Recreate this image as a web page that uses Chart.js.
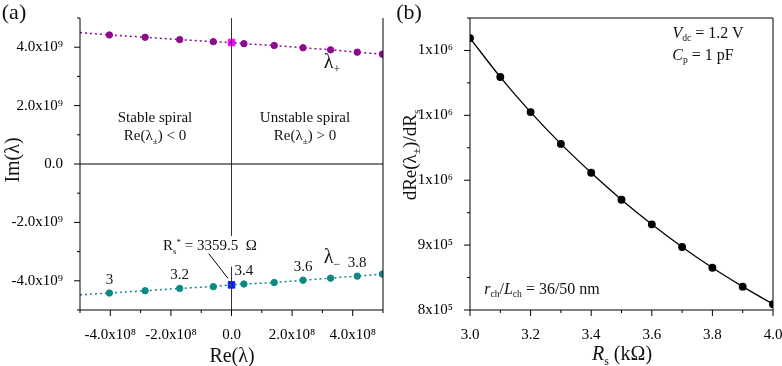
<!DOCTYPE html>
<html>
<head>
<meta charset="utf-8">
<script src="https://cdn.jsdelivr.net/npm/chart.js@4.4.0/dist/chart.umd.min.js"></script>
<style>
  html, body { margin: 0; padding: 0; background: #fff; }
  #wrap { position: relative; width: 782px; height: 366px; overflow: hidden; background: #fff; }
  #chartA { position: absolute; left: 0; top: 0; }
  #chartB { position: absolute; left: 391px; top: 0; }
  .t { position: absolute; font-family: 'Liberation Serif', 'Times New Roman', serif; color: #111;
       white-space: nowrap; transform: translate(-50%, -50%); line-height: 1; }
  .t sub { font-size: 0.6em; vertical-align: -0.35em; }
  .t sup { font-size: 0.6em; vertical-align: 0.55em; }
  .rot { transform: translate(-50%, -50%) rotate(-90deg); }
  i { font-style: italic; }
</style>
</head>
<body>
<div id="wrap">
  <canvas id="chartA" width="391" height="366"></canvas>
  <canvas id="chartB" width="400" height="366"></canvas>

  <!-- panel (a) text -->
  <div class="t" style="left:14px; top:12px; font-size:22px;">(a)</div>
  <div class="t rot" style="left:12px; top:160px; font-size:20px;">Im(λ)</div>
  <div class="t" style="left:232px; top:355px; font-size:20px;">Re(λ)</div>
  <div class="t" style="left:155px; top:117px; font-size:15px;">Stable spiral</div>
  <div class="t" style="left:155px; top:137px; font-size:15px;">Re(λ<sub>±</sub>) &lt; 0</div>
  <div class="t" style="left:305px; top:117px; font-size:15px;">Unstable spiral</div>
  <div class="t" style="left:305px; top:137px; font-size:15px;">Re(λ<sub>±</sub>) &gt; 0</div>
  <div class="t" style="left:332px; top:63px; font-size:20px;">λ<sub>+</sub></div>
  <div class="t" style="left:332px; top:258px; font-size:20px;">λ<sub>−</sub></div>
  <div class="t" style="left:210px; top:247px; font-size:15px;">R<sub>s</sub><sup>*</sup> = 3359.5 &nbsp;Ω</div>

  <!-- panel (b) text -->
  <div class="t" style="left:409px; top:12px; font-size:22px;">(b)</div>
  <div class="t rot" style="left:411px; top:155px; font-size:19px;">dRe(λ<sub>±</sub>)/dR<sub>s</sub></div>
  <div class="t" style="left:622px; top:355px; font-size:20px;"><i>R</i><sub>s</sub> (kΩ)</div>
  <div class="t" style="left:708px; top:34px; font-size:16px;"><i>V</i><sub>dc</sub> = 1.2 V</div>
  <div class="t" style="left:703px; top:56px; font-size:16px;"><i>C</i><sub>p</sub> = 1 pF</div>
  <div class="t" style="left:542px; top:290px; font-size:16px;"><i>r</i><sub>ch</sub>/<i>L</i><sub>ch</sub> = 36/50 nm</div>
</div>

<script>
// ---- panel (a): eigenvalues in the complex plane ----
const reLam = [-4.03e8, -2.85e8, -1.71e8, -0.60e8, 0.41e8, 1.41e8, 2.36e8, 3.27e8, 4.15e8, 4.98e8];
const imLamPlus = [4.42e9, 4.34e9, 4.26e9, 4.19e9, 4.12e9, 4.06e9, 3.98e9, 3.91e9, 3.83e9, 3.76e9];
const imLamMinus = [-4.42e9, -4.34e9, -4.26e9, -4.20e9, -4.11e9, -4.06e9, -3.98e9, -3.91e9, -3.84e9, -3.77e9];
const rsLabels = ['3', '', '3.2', '', '3.4', '', '3.6', '', '3.8', ''];
// critical point Rs* (Hopf)
const critRe = 0;
const critImPlus = 4.16e9;
const critImMinus = -4.14e9;
// where the dotted guide lines leave the left edge
const edgeRe = -5e8;
const edgeImPlus = 4.5e9;
const edgeImMinus = -4.48e9;
// reference lines and leader line
const zeroVUpper = [5e9, -2.45e9];
const zeroVLower = [-3.52e9, -5e9];
const leaderRe = [-7.5e7, -1.2e7];
const leaderIm = [-3.07e9, -3.91e9];

const xTicksA = [-4e8, -2e8, 0, 2e8, 4e8];
const xMinorA = [-5e8, -3e8, -1e8, 1e8, 3e8, 5e8];
const yTicksA = [-4e9, -2e9, 0, 2e9, 4e9];
const yMinorA = [-5e9, -3e9, -1e9, 1e9, 3e9, 5e9];

// ---- panel (b): derivative vs Rs ----
const rsK = [3.0, 3.1, 3.2, 3.3, 3.4, 3.5, 3.6, 3.7, 3.8, 3.9, 4.0];
const dReDRs = [1.219e6, 1.159e6, 1.105e6, 1.056e6, 1.0115e6, 9.70e5, 9.32e5, 8.97e5, 8.65e5, 8.36e5, 8.09e5];
const xTicksB = [3.0, 3.2, 3.4, 3.6, 3.8, 4.0];
const xMinorB = [3.1, 3.3, 3.5, 3.7, 3.9];
const yTicksB = [8e5, 9e5, 1e6, 1.1e6, 1.2e6];
const yMinorB = [8.5e5, 9.5e5, 1.05e6, 1.15e6, 1.25e6];

const SERIF = "'Liberation Serif', 'Times New Roman', serif";
Chart.defaults.font.family = SERIF;
Chart.defaults.color = '#000';

const sup = { '0': '⁰', '1': '¹', '2': '²', '3': '³', '4': '⁴', '5': '⁵', '6': '⁶', '7': '⁷', '8': '⁸', '9': '⁹' };
function sci(mant, exp) {
  return mant + 'x10' + String(exp).split('').map(c => sup[c]).join('');
}

function pts(xs, ys) {
  return xs.map((x, i) => ({ x: x, y: ys[i] }));
}

// line through the guide edge, the points and the critical square, sorted along x
function guide(edgeY, ys, critY) {
  const all = [{ x: edgeRe, y: edgeY }, { x: critRe, y: critY }].concat(pts(reLam, ys));
  return all.sort((a, b) => a.x - b.x);
}

// frame, major/minor outward ticks and the Rs labels near λ-
const decoPlugin = {
  id: 'deco',
  afterDraw(chart, args, opts) {
    const { ctx, chartArea: a, scales } = chart;
    ctx.save();
    ctx.strokeStyle = '#000';
    ctx.lineWidth = 1;
    ctx.beginPath();
    if (opts.top) {
      ctx.rect(a.left, a.top, a.right - a.left, a.bottom - a.top);
    } else {
      ctx.moveTo(a.left, a.top);
      ctx.lineTo(a.left, a.bottom);
      ctx.lineTo(a.right, a.bottom);
      ctx.lineTo(a.right, a.top);
    }
    opts.xMajor.forEach(v => { const p = scales.x.getPixelForValue(v); ctx.moveTo(p, a.bottom); ctx.lineTo(p, a.bottom + 6); });
    opts.xMinor.forEach(v => { const p = scales.x.getPixelForValue(v); ctx.moveTo(p, a.bottom); ctx.lineTo(p, a.bottom + 3); });
    opts.yMajor.forEach(v => { const p = scales.y.getPixelForValue(v); ctx.moveTo(a.left, p); ctx.lineTo(a.left - 6, p); });
    opts.yMinor.forEach(v => { const p = scales.y.getPixelForValue(v); ctx.moveTo(a.left, p); ctx.lineTo(a.left - 3, p); });
    ctx.stroke();

    if (opts.labelDataset !== undefined) {
      const meta = chart.getDatasetMeta(opts.labelDataset);
      ctx.fillStyle = '#111';
      ctx.font = '15px ' + SERIF;
      ctx.textAlign = 'center';
      ctx.textBaseline = 'middle';
      meta.data.forEach((el, i) => {
        if (rsLabels[i]) ctx.fillText(rsLabels[i], el.x, el.y - 13);
      });
    }
    ctx.restore();
  }
};

function lineSet(data, color, width, dash) {
  return { data: data, showLine: true, borderColor: color, borderWidth: width, borderDash: dash || [],
           pointRadius: 0, pointHoverRadius: 0, fill: false };
}

const purple = '#8e0a8e';
const teal = '#0d8a82';

new Chart(document.getElementById('chartA'), {
  type: 'scatter',
  data: {
    datasets: [
      lineSet([{ x: -5e8, y: 0 }, { x: 5e8, y: 0 }], '#000', 1),
      lineSet(zeroVUpper.map(y => ({ x: 0, y: y })), '#333', 1),
      lineSet(zeroVLower.map(y => ({ x: 0, y: y })), '#333', 1),
      lineSet(pts(leaderRe, leaderIm), '#000', 1),
      lineSet(guide(edgeImPlus, imLamPlus, critImPlus), purple, 1.5, [2, 3]),
      lineSet(guide(edgeImMinus, imLamMinus, critImMinus), teal, 1.5, [2, 3]),
      { data: pts(reLam, imLamPlus), pointRadius: 3.2, backgroundColor: purple, borderColor: purple },
      { data: pts(reLam, imLamMinus), pointRadius: 3.2, backgroundColor: teal, borderColor: teal },
      { data: [{ x: critRe, y: critImPlus }], pointStyle: 'rect', pointRadius: 4.6, backgroundColor: '#ff00ff', borderColor: '#ff00ff' },
      { data: [{ x: critRe, y: critImMinus }], pointStyle: 'rect', pointRadius: 4.6, backgroundColor: '#0a1eff', borderColor: '#0a1eff' }
    ]
  },
  options: {
    responsive: false,
    animation: false,
    layout: { padding: { top: 7, right: 8, left: 0, bottom: 0 } },
    plugins: {
      legend: { display: false },
      tooltip: { enabled: false },
      deco: { top: false, xMajor: xTicksA, xMinor: xMinorA, yMajor: yTicksA, yMinor: yMinorA, labelDataset: 7 }
    },
    scales: {
      x: {
        type: 'linear', min: -5e8, max: 5e8,
        grid: { display: false }, border: { display: false },
        afterBuildTicks: s => { s.ticks = xTicksA.map(v => ({ value: v })); },
        afterFit: s => { s.height = 56; },
        ticks: { padding: 8, maxRotation: 0, font: { size: 15 },
                 callback: v => v === 0 ? '0.0' : sci((v / 1e8).toFixed(1), 8) }
      },
      y: {
        type: 'linear', min: -5e9, max: 5e9,
        grid: { display: false }, border: { display: false },
        afterBuildTicks: s => { s.ticks = yTicksA.map(v => ({ value: v })); },
        afterFit: s => { s.width = 80; },
        ticks: { padding: 9, font: { size: 15 },
                 callback: v => v === 0 ? '0.0' : sci((v / 1e9).toFixed(1), 9) }
      }
    }
  },
  plugins: [decoPlugin]
});

new Chart(document.getElementById('chartB'), {
  type: 'scatter',
  data: {
    datasets: [{
      data: pts(rsK, dReDRs),
      showLine: true,
      cubicInterpolationMode: 'monotone',
      borderColor: '#000',
      borderWidth: 1.3,
      backgroundColor: '#000',
      pointRadius: 3.3
    }]
  },
  options: {
    responsive: false,
    animation: false,
    layout: { padding: { top: 7, right: 18, left: 0, bottom: 0 } },
    plugins: {
      legend: { display: false },
      tooltip: { enabled: false },
      deco: { top: true, xMajor: xTicksB, xMinor: xMinorB, yMajor: yTicksB, yMinor: yMinorB }
    },
    scales: {
      x: {
        type: 'linear', min: 3, max: 4,
        grid: { display: false }, border: { display: false },
        afterBuildTicks: s => { s.ticks = xTicksB.map(v => ({ value: v })); },
        afterFit: s => { s.height = 56; },
        ticks: { padding: 8, maxRotation: 0, font: { size: 15 }, callback: v => v.toFixed(1) }
      },
      y: {
        type: 'linear', min: 8e5, max: 1.25e6,
        grid: { display: false }, border: { display: false },
        afterBuildTicks: s => { s.ticks = yTicksB.map(v => ({ value: v })); },
        afterFit: s => { s.width = 79; },
        ticks: { padding: 9, font: { size: 15 },
                 callback: v => v >= 1e6 ? sci(1, 6) : sci(Math.round(v / 1e5), 5) }
      }
    }
  },
  plugins: [decoPlugin]
});
</script>
</body>
</html>
